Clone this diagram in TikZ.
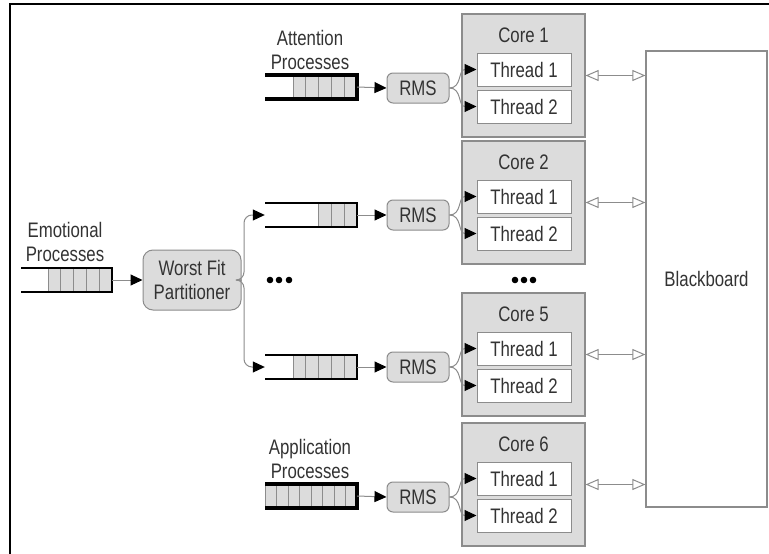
\documentclass[tikz,border=0pt]{standalone}
\usepackage{fontspec}
\setmainfont{Liberation Sans}[FakeStretch=0.8]
\usetikzlibrary{arrows.meta}
\definecolor{boxfill}{HTML}{DCDCDC}
\definecolor{boxline}{HTML}{8C8C8C}
\definecolor{txt}{HTML}{333333}
\newcommand{\myqueue}[7]{% name, xl, xr, yc, xs, n, line width
  \node[inner sep=0pt, minimum width={#3-#2}, minimum height=24] (#1) at ({(#2+#3)/2},#4) {};
  \fill[boxfill] (#5,#4-12) rectangle (#3,#4+12);
  \foreach \i in {1,...,#6} {\draw[boxline, line width=0.8] ({#5+\i*(#3-#5)/#6-(#3-#5)/#6},#4-12) -- ({#5+\i*(#3-#5)/#6-(#3-#5)/#6},#4+12);}
  \draw[line width=#7, line join=miter] (#2,#4-12) -- (#3,#4-12) -- (#3,#4+12) -- (#2,#4+12);
}
\newcommand{\mycore}[2]{% number, top
  \node[core] (c#1) at (523.5,#2+61.5) {};
  \node[txtstyle] (c#1l) at (523.5,#2+21) {Core #1};
  \node[thread] (c#1a) at (524,#2+55.5) {Thread 1};
  \node[thread] (c#1b) at (524,#2+92.5) {Thread 2};
  \node[rms] (r#1) at (418,#2+74) {RMS};
  \draw[conn] (r#1.east) .. controls (462,#2+74) and (458,#2+55.5) .. (c#1a.west);
  \draw[conn] (r#1.east) .. controls (462,#2+74) and (458,#2+92.5) .. (c#1b.west);
  \draw[bbarrow] (c#1.east) -- (c#1.east -| bb.west);
}
\begin{document}
\begin{tikzpicture}[x=1pt,y=-1pt,
  font=\fontsize{21}{24}\selectfont, text=txt,
  txtstyle/.style={inner sep=0pt, align=center},
  core/.style={draw=boxline, fill=boxfill, line width=1.2, minimum width=123, minimum height=123, inner sep=0pt},
  thread/.style={draw=boxline, fill=white, line width=1, minimum width=94, minimum height=33, inner sep=0pt},
  rms/.style={draw=boxline, fill=boxfill, line width=1, rounded corners=6, minimum width=62, minimum height=30, inner sep=0pt},
  conn/.style={draw=boxline, line width=1, -{Triangle[length=12pt,width=11pt,color=black]}},
  bbarrow/.style={draw=boxline, line width=1, {Triangle[open,length=13pt,width=11pt,fill=white]}-{Triangle[open,length=13pt,width=11pt,fill=white]}}]
\useasboundingbox (0,0) rectangle (769,554);
\draw[line width=2] (10,554) -- (10,4) -- (769,4);
% blackboard
\node[draw=boxline, line width=1.2, minimum width=121, minimum height=456, inner sep=0pt] (bb) at (706.5,279) {};
\node[txtstyle] (bbl) at (bb.center) {Blackboard};
% cores
\mycore{1}{14}
\mycore{2}{141}
\mycore{5}{293}
\mycore{6}{423}
% queues
\myqueue{qa}{265}{357}{87}{293}{5}{3.5}
\myqueue{q2}{265}{357}{215}{318}{3}{2.5}
\myqueue{q5}{265}{357}{367}{293}{5}{2.5}
\myqueue{qb}{265}{357}{496}{265}{8}{3.5}
\myqueue{qe}{21}{112}{280}{48}{5}{2.5}
\node[txtstyle] (la) at (310,50) {Attention\\Processes};
\node[txtstyle] (lb) at (310,459) {Application\\Processes};
\node[txtstyle] (le) at (65,242) {Emotional\\Processes};
% partitioner
\node[draw=boxline, fill=boxfill, line width=1, rounded corners=10, minimum width=98, minimum height=60, inner sep=0pt, align=center] (wfp) at (192,280) {Worst Fit\\Partitioner};
% connectors
\draw[conn] (qe.east) -- (wfp.west);
\draw[conn] (qa.east) -- (r1.west);
\draw[conn] (q2.east) -- (r2.west);
\draw[conn] (q5.east) -- (r5.west);
\draw[conn] (qb.east) -- (r6.west);
\draw[conn, rounded corners=8] (wfp.east) -| (244,215) -- (q2.west);
\draw[conn, rounded corners=8] (wfp.east) -| (244,367) -- (q5.west);
% ellipses
\foreach \x in {270,279,289} \fill (\x,280) circle (3.3);
\foreach \x in {515,524,533} \fill (\x,280) circle (3.3);
\end{tikzpicture}
\end{document}
